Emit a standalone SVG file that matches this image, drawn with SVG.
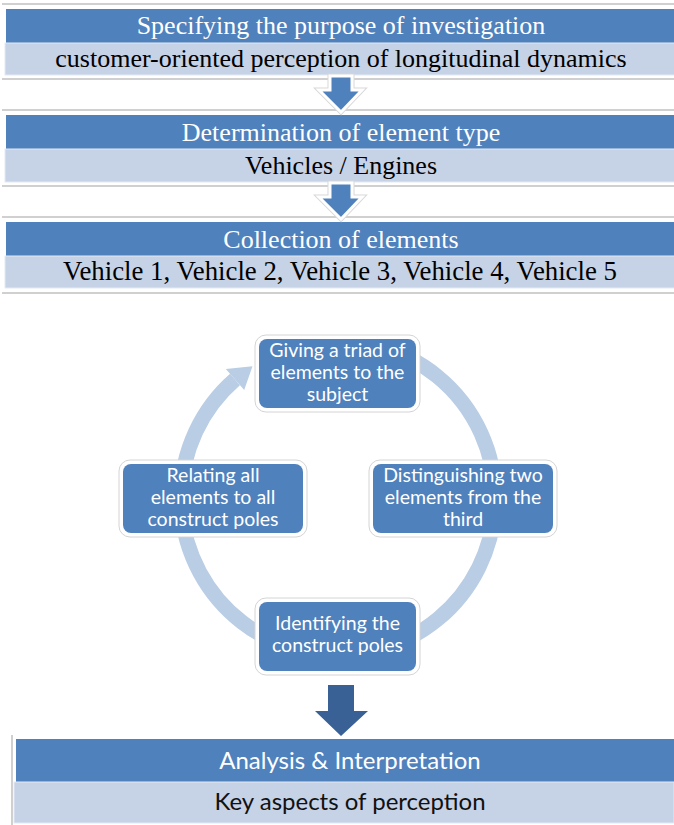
<svg xmlns="http://www.w3.org/2000/svg" width="674" height="825" viewBox="0 0 674 825">
  <style>
    .rule { stroke: #c0c0c0; stroke-width: 1.5; fill: none; }
    .band-dark { fill: #4f81bd; }
    .band-light { fill: #c6d2e6; stroke: #e4eaf3; stroke-width: 1; }
    .serif-title { font-family: "Liberation Serif", "Times New Roman", serif; font-size: 26px; fill: #ffffff; text-anchor: middle; }
    .serif-sub { font-family: "Liberation Serif", "Times New Roman", serif; font-size: 26px; fill: #000000; text-anchor: middle; }
    .flow-arrow { fill: #4f81bd; stroke: #ffffff; stroke-width: 3; stroke-linejoin: miter; }
    .flow-arrow-halo { fill: none; stroke: #d8d8d8; stroke-width: 5; stroke-linejoin: miter; }
    .node-frame { fill: #ffffff; stroke: #d4d4d4; stroke-width: 1; }
    .node-body { fill: #4f81bd; }
    .node-text { font-family: Lato, "Open Sans", "Liberation Sans", sans-serif; font-size: 19.5px; fill: #ffffff; text-anchor: middle; }
    .sans-title { font-family: Lato, "Open Sans", "Liberation Sans", sans-serif; font-size: 24px; fill: #ffffff; text-anchor: middle; }
    .sans-sub { font-family: Lato, "Open Sans", "Liberation Sans", sans-serif; font-size: 24px; fill: #111111; text-anchor: middle; }
  </style>

  <!-- horizontal separator rules -->
  <g id="rules">
    <line class="rule" x1="2" y1="4" x2="674" y2="4"/>
    <line class="rule" x1="2" y1="79" x2="674" y2="79"/>
    <line class="rule" x1="2" y1="110" x2="674" y2="110"/>
    <line class="rule" x1="2" y1="186" x2="674" y2="186"/>
    <line class="rule" x1="2" y1="217" x2="674" y2="217"/>
    <line class="rule" x1="2" y1="293" x2="674" y2="293"/>
    <line class="rule" x1="12" y1="735" x2="12" y2="825"/>
  </g>

  <!-- step 1 -->
  <g id="purpose">
    <rect class="band-dark" x="6" y="9" width="668" height="34"/>
    <rect class="band-light" x="5" y="43" width="670" height="32"/>
    <text class="serif-title" x="341" y="34">Specifying the purpose of investigation</text>
    <text class="serif-sub" x="341" y="67">customer-oriented perception of longitudinal dynamics</text>
  </g>

  <!-- step 2 -->
  <g id="element-type">
    <rect class="band-dark" x="6" y="115" width="668" height="34"/>
    <rect class="band-light" x="5" y="149" width="670" height="33"/>
    <text class="serif-title" x="341" y="141">Determination of element type</text>
    <text class="serif-sub" x="341" y="174">Vehicles / Engines</text>
  </g>

  <!-- step 3 -->
  <g id="elements">
    <rect class="band-dark" x="6" y="222" width="668" height="34"/>
    <rect class="band-light" x="5" y="256" width="670" height="32"/>
    <text class="serif-title" x="341" y="248">Collection of elements</text>
    <text class="serif-sub" x="340" y="280" style="font-size:26.8px">Vehicle 1, Vehicle 2, Vehicle 3, Vehicle 4, Vehicle 5</text>
  </g>

  <!-- final step -->
  <g id="analysis">
    <rect class="band-dark" x="16" y="739" width="658" height="43"/>
    <rect class="band-light" x="14" y="782" width="660" height="41"/>
    <text class="sans-title" x="350" y="769">Analysis &amp; Interpretation</text>
    <text class="sans-sub" x="350" y="810">Key aspects of perception</text>
  </g>

  <!-- connectors: block arrows and the cycle ring -->
  <g id="connectors">
    <path class="flow-arrow-halo" d="M330,76 L352,76 L352,90 L362,90 L341,112 L319,90 L330,90 Z"/>
    <path class="flow-arrow" d="M330,76 L352,76 L352,90 L362,90 L341,112 L319,90 L330,90 Z"/>
    <path class="flow-arrow-halo" d="M330,183 L352,183 L352,197 L362,197 L341,219 L319,197 L330,197 Z"/>
    <path class="flow-arrow" d="M330,183 L352,183 L352,197 L362,197 L341,219 L319,197 L330,197 Z"/>

    <!-- ring starts behind the top node and runs clockwise to the arrowhead -->
    <path d="M378.6,346.3 A157,157 0 1 1 235.0,379.5" fill="none" stroke="#b9cde5" stroke-width="15"/>
    <polygon points="225.8,368.9 252.5,366.3 244.2,390.1" fill="#b9cde5"/>

    <path d="M328,685 L354,685 L354,711 L368,711 L341,736 L315,711 L328,711 Z" fill="#3a6195"/>
  </g>

  <!-- cycle nodes -->
  <g id="triad">
    <rect class="node-frame" x="255" y="335" width="165" height="77" rx="11"/>
    <rect class="node-body" x="259" y="339" width="157" height="69" rx="8"/>
    <text class="node-text" x="337.5" y="357">Giving a triad of</text>
    <text class="node-text" x="337.5" y="379">elements to the</text>
    <text class="node-text" x="337.5" y="401">subject</text>
  </g>

  <g id="distinguish">
    <rect class="node-frame" x="369" y="460" width="188" height="77" rx="11"/>
    <rect class="node-body" x="373" y="464" width="180" height="69" rx="8"/>
    <text class="node-text" x="463" y="482">Distinguishing two</text>
    <text class="node-text" x="463" y="504">elements from the</text>
    <text class="node-text" x="463" y="526">third</text>
  </g>

  <g id="poles">
    <rect class="node-frame" x="255" y="598" width="165" height="77" rx="11"/>
    <rect class="node-body" x="259" y="602" width="157" height="69" rx="8"/>
    <text class="node-text" x="337.5" y="630">Identifying the</text>
    <text class="node-text" x="337.5" y="652">construct poles</text>
  </g>

  <g id="relate">
    <rect class="node-frame" x="119" y="460" width="188" height="77" rx="11"/>
    <rect class="node-body" x="123" y="464" width="180" height="69" rx="8"/>
    <text class="node-text" x="213" y="482">Relating all</text>
    <text class="node-text" x="213" y="504">elements to all</text>
    <text class="node-text" x="213" y="526">construct poles</text>
  </g>
</svg>
